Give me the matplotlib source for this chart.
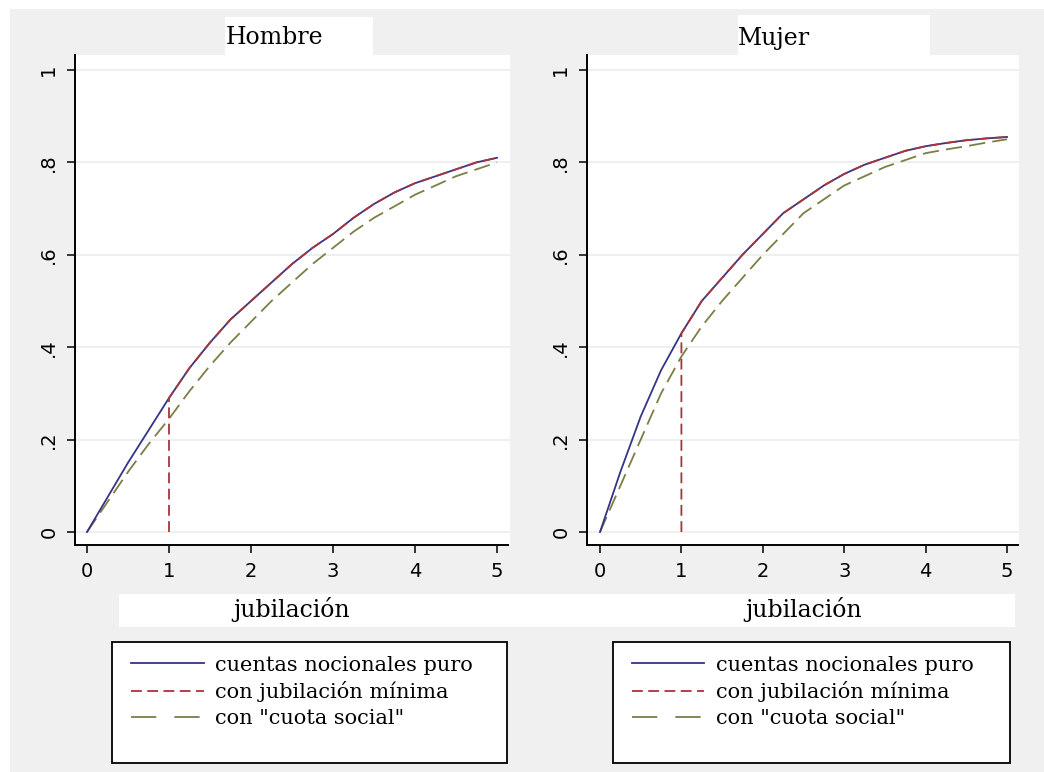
import matplotlib.pyplot as plt
from matplotlib.patches import Rectangle
from matplotlib.lines import Line2D

# años desde la jubilación y proporción acumulada
x_h = [0, 0.25, 0.5, 0.75, 1, 1.25, 1.5, 1.75, 2, 2.25, 2.5, 2.75, 3, 3.25, 3.5, 3.75, 4, 4.25, 4.5, 4.75, 5]
puro_h = [0, 0.075, 0.15, 0.22, 0.29, 0.355, 0.41, 0.46, 0.50, 0.54, 0.58, 0.615, 0.645, 0.68, 0.71, 0.735, 0.755, 0.77, 0.785, 0.80, 0.81]
cuota_h = [0, 0.065, 0.13, 0.19, 0.245, 0.305, 0.36, 0.41, 0.455, 0.50, 0.54, 0.58, 0.615, 0.65, 0.68, 0.705, 0.73, 0.75, 0.77, 0.785, 0.80]
minima_x_h = [1, 1, 1.25, 1.5, 1.75, 2, 2.25, 2.5, 2.75, 3, 3.25, 3.5, 3.75, 4, 4.25, 4.5, 4.75, 5]
minima_h = [0, 0.29, 0.355, 0.41, 0.46, 0.50, 0.54, 0.58, 0.615, 0.645, 0.68, 0.71, 0.735, 0.755, 0.77, 0.785, 0.80, 0.81]

x_m = x_h
puro_m = [0, 0.13, 0.25, 0.35, 0.43, 0.50, 0.55, 0.60, 0.645, 0.69, 0.72, 0.75, 0.775, 0.795, 0.81, 0.825, 0.835, 0.842, 0.848, 0.852, 0.855]
cuota_m = [0, 0.10, 0.20, 0.30, 0.38, 0.445, 0.50, 0.55, 0.60, 0.645, 0.69, 0.72, 0.75, 0.77, 0.79, 0.805, 0.82, 0.828, 0.835, 0.843, 0.85]
minima_x_m = minima_x_h
minima_m = [0, 0.43, 0.50, 0.55, 0.60, 0.645, 0.69, 0.72, 0.75, 0.775, 0.795, 0.81, 0.825, 0.835, 0.842, 0.848, 0.852, 0.855]

titles = ['Hombre', 'Mujer']
labels = ['cuentas nocionales puro', 'con jubilación mínima', 'con "cuota social"']
yticks = [0, 0.2, 0.4, 0.6, 0.8, 1]
ytick_labels = ['0', '.2', '.4', '.6', '.8', '1']
xticks = [0, 1, 2, 3, 4, 5]

NAVY = '#343488'
MAROON = '#a8343c'
OLIVE = '#7d7d45'
W, H = 1044, 772
serif = ['DejaVu Serif']


def fig_rect(fig, x0, y0, x1, y1, **kw):
    # rectangle given in pixels (origin top left)
    r = Rectangle((x0 / W, 1 - y1 / H), (x1 - x0) / W, (y1 - y0) / H,
                  transform=fig.transFigure, **kw)
    fig.patches.append(r)
    return r


fig = plt.figure(figsize=(10.44, 7.72), dpi=100, facecolor='white')
fig_rect(fig, 10, 9, 1044, 772, facecolor='#f0f0f0', edgecolor='none', zorder=-10)
# white patches from the original export
fig_rect(fig, 225, 17, 373, 70, facecolor='white', edgecolor='none', zorder=-9)
fig_rect(fig, 738, 15, 930, 70, facecolor='white', edgecolor='none', zorder=-9)
fig_rect(fig, 119, 594, 1015, 627, facecolor='white', edgecolor='none', zorder=-9)

panels = [
    dict(left=75, right=510, x0px=87, x5px=497, title_x=275,
         data=(x_h, puro_h, minima_x_h, minima_h, cuota_h)),
    dict(left=587, right=1019, x0px=600, x5px=1007, title_x=774,
         data=(x_m, puro_m, minima_x_m, minima_m, cuota_m)),
]
top, bottom = 55, 545
y0px, y1px = 532, 70

for title, p in zip(titles, panels):
    ax = fig.add_axes([p['left'] / W, 1 - bottom / H,
                       (p['right'] - p['left']) / W, (bottom - top) / H])
    unit = (p['x5px'] - p['x0px']) / 5
    ax.set_xlim(-(p['x0px'] - p['left']) / unit, (p['right'] - p['x0px']) / unit)
    yunit = y0px - y1px
    ax.set_ylim(-(bottom - y0px) / yunit, (y0px - top) / yunit)

    xs, puro, mx, minima, cuota = p['data']
    ax.plot(xs, cuota, color=OLIVE, lw=1.3, dashes=(9, 4), zorder=3)
    ax.plot(xs, puro, color=NAVY, lw=1.3, zorder=4)
    ax.plot(mx, minima, color=MAROON, lw=1.3, dashes=(6, 3), zorder=5)

    ax.set_yticks(yticks)
    ax.set_yticklabels(ytick_labels, rotation=90, va='center',
                       family='DejaVu Sans', fontsize=14)
    ax.set_xticks(xticks)
    ax.set_xticklabels([str(t) for t in xticks], family='DejaVu Sans', fontsize=14)
    ax.tick_params(direction='out', length=6, width=1.1, color='black', pad=6)
    ax.grid(axis='y', color='#ececec', lw=1.2)
    ax.set_axisbelow(True)
    for s in ['top', 'right']:
        ax.spines[s].set_visible(False)
    for s in ['left', 'bottom']:
        ax.spines[s].set_linewidth(1.4)
    ax.spines['bottom'].set_bounds(ax.get_xlim()[0], 5.13)

    fig.text(p['title_x'] / W, 1 - 38 / H, title, ha='center', va='center',
             family=serif, fontsize=17)
    fig.text((p['x0px'] + p['x5px']) / 2 / W, 1 - 609 / H, 'jubilación',
             ha='center', va='center', family=serif, fontsize=17)

# legends
for lx0, lx1 in [(112, 507), (613, 1010)]:
    fig_rect(fig, lx0, 642, lx1, 763, facecolor='white', edgecolor='black',
             lw=1.3, zorder=1)
    handles = [Line2D([], [], color=NAVY, lw=1.3),
               Line2D([], [], color=MAROON, lw=1.3, dashes=(6, 3)),
               Line2D([], [], color=OLIVE, lw=1.3, dashes=(14, 10))]
    leg = fig.legend(handles, labels, loc='upper left',
                     bbox_to_anchor=((lx0 + 4) / W, 1 - 641 / H),
                     frameon=False, prop={'family': serif, 'size': 15},
                     handlelength=3.5, handletextpad=0.55, labelspacing=0.32,
                     borderpad=0.2)
    leg.set_zorder(2)

fig.savefig('out.png', dpi=100, facecolor=fig.get_facecolor())
